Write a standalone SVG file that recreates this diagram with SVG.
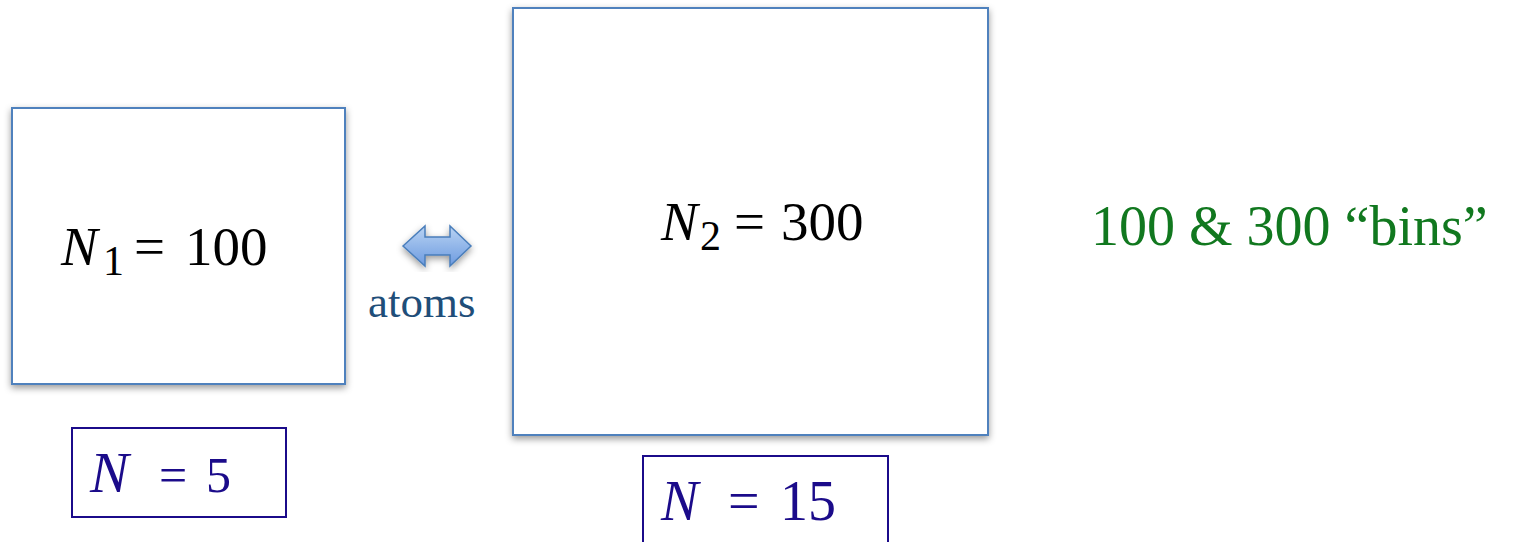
<svg xmlns="http://www.w3.org/2000/svg" width="1513" height="542" viewBox="0 0 1513 542">
<defs>
<filter id="sh" x="-10%" y="-10%" width="120%" height="125%">
<feDropShadow dx="0" dy="3" stdDeviation="3.5" flood-color="#000" flood-opacity="0.4"/>
</filter>
<linearGradient id="ag" x1="0" y1="0" x2="0" y2="1">
<stop offset="0" stop-color="#b9d3f3"/>
<stop offset="1" stop-color="#6d9be0"/>
</linearGradient>
<style>
.bin{fill:#fff;stroke:#4f81bd;stroke-width:2}
.cnt{fill:#fff;stroke:#1b0b8a;stroke-width:2}
.t{font-family:"Liberation Serif","Times New Roman",serif;fill:#000}
.nv{fill:#1b0b8a}
.it{font-style:italic}
</style>
</defs>
<g id="box1">
<rect class="bin" x="12" y="108" width="333" height="276" filter="url(#sh)"/>
<text class="t" font-size="55" y="265"><tspan class="it" x="61">N</tspan><tspan x="103" y="275" font-size="42">1</tspan><tspan x="134" y="265">=</tspan><tspan x="185">100</tspan></text>
</g>
<g id="box2">
<rect class="bin" x="513" y="8" width="475" height="427" filter="url(#sh)"/>
<text class="t" font-size="55" y="240"><tspan class="it" x="661">N</tspan><tspan x="700" y="250" font-size="42">2</tspan><tspan x="734" y="240">=</tspan><tspan x="781">300</tspan></text>
</g>
<g id="count1">
<rect class="cnt" x="72" y="428" width="214" height="89"/>
<text class="t nv" font-size="50" y="492"><tspan class="it" x="90" font-size="58">N</tspan><tspan x="159">=</tspan><tspan x="206">5</tspan></text>
</g>
<g id="count2">
<rect class="cnt" x="643" y="456" width="245" height="95"/>
<text class="t nv" font-size="56" y="520"><tspan class="it" x="661">N</tspan><tspan x="728">=</tspan><tspan x="780">15</tspan></text>
</g>
<g id="label">
<text class="t" x="1091" y="245" font-size="56" style="fill:#11781f">100 &amp; 300 “bins”</text>
</g>
<g id="connectors">
<path d="M403,246 L425,226 L425,237 L450,237 L450,226 L471,246 L450,266 L450,255 L425,255 L425,266 Z" fill="url(#ag)" stroke="#4a7ebb" stroke-width="1.5" stroke-linejoin="miter" filter="url(#sh)"/>
<text class="t" x="368" y="317" font-size="45" style="fill:#1f4e79">atoms</text>
</g>
</svg>
